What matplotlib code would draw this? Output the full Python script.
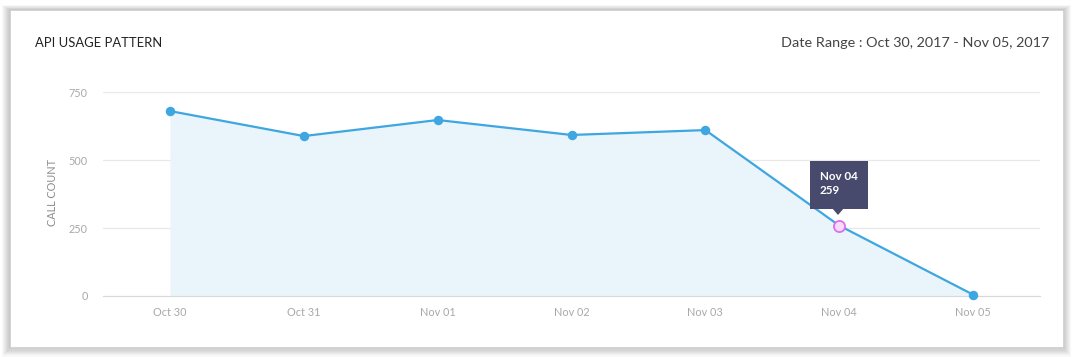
"""API usage pattern card: daily call counts with a hover tooltip."""

import matplotlib.pyplot as plt
from matplotlib.patches import Polygon, Rectangle

days = ["Oct 30", "Oct 31", "Nov 01", "Nov 02", "Nov 03", "Nov 04", "Nov 05"]
calls = [680, 588, 647, 592, 610, 259, 5]
y_ticks = [0, 250, 500, 750]
highlight = 5  # index shown in the tooltip

W, H = 1073, 357
LINE = "#3ea6e0"
FILL = "#eaf4fb"
TICK = "#a8a8a8"

plt.rcParams["font.family"] = ["Lato", "DejaVu Sans"]

fig = plt.figure(figsize=(W / 100, H / 100), dpi=100)
fig.patch.set_facecolor("white")


def fx(px):
    return px / W


def fy(py):
    return 1 - py / H


def fig_rect(x0, y0, x1, y1, **kw):
    # rectangle given in pixel coords (top-left origin)
    fig.patches.append(Rectangle((fx(x0), fy(y1)), fx(x1 - x0), (y1 - y0) / H,
                                 transform=fig.transFigure, **kw))


# card with a soft shadow, a bit heavier at the bottom
for d in range(8, 0, -1):
    fig_rect(10 - d, 10 - d * 0.6, 1063 + d, 347 + d * 1.2,
             facecolor="black", alpha=0.028, edgecolor="none", zorder=0)
fig_rect(10, 10, 1063, 347, facecolor="white", edgecolor="#c8c8c8", linewidth=0.4, zorder=1)

fig.text(fx(35), fy(43), "API USAGE PATTERN", fontsize=9.4, color="#222222", va="center", ha="left")
fig.text(fx(1049), fy(43), "Date Range : Oct 30, 2017 - Nov 05, 2017", fontsize=10.4,
         color="#444444", va="center", ha="right")

ax = fig.add_axes([fx(103), fy(296), fx(1040 - 103), (296 - 92) / H])
ax.set_facecolor("none")
ax.set_zorder(2)

x = list(range(len(days)))
ax.fill_between(x, calls, 0, color=FILL, linewidth=0)
ax.plot(x, calls, color=LINE, linewidth=1.6, marker="o", markersize=5.8, clip_on=False, zorder=3)
ax.plot([x[highlight]], [calls[highlight]], marker="o", markersize=8, markerfacecolor="#f7dcf7",
        markeredgecolor="#dd6ef0", markeredgewidth=1.3, linestyle="none", clip_on=False, zorder=4)

ax.set_xlim(-0.5, len(days) - 0.5)
ax.set_ylim(0, 750)
ax.set_xticks(x, days)
ax.set_yticks(y_ticks)
ax.yaxis.grid(True, color="#e8e8e8", linewidth=0.9)
ax.set_axisbelow(True)
for side in ["top", "right", "left"]:
    ax.spines[side].set_visible(False)
ax.spines["bottom"].set_color("#d8d8d8")
ax.tick_params(axis="both", length=0, labelsize=7.8, labelcolor=TICK)
ax.tick_params(axis="x", pad=8)
ax.tick_params(axis="y", pad=11)

fig.text(fx(53), fy(193), "CALL COUNT", rotation=90, fontsize=7.8, color="#8c8c8c",
         va="center", ha="center")

# tooltip box
fig_rect(810, 161, 868, 209, facecolor="#474a6d", edgecolor="none", zorder=5)
fig.patches.append(Polygon([(fx(832), fy(208)), (fx(844), fy(208)), (fx(838), fy(215))],
                           closed=True, transform=fig.transFigure, facecolor="#474a6d",
                           edgecolor="none", zorder=5))
fig.text(fx(820), fy(177), days[highlight], fontsize=8.4, color="white", fontweight="bold",
         va="center", ha="left", zorder=6)
fig.text(fx(820), fy(191), str(calls[highlight]), fontsize=8.4, color="white", fontweight="bold",
         va="center", ha="left", zorder=6)

fig.savefig("out.png", dpi=100)
